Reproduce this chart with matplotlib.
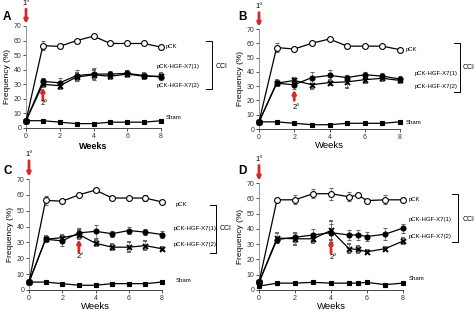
import matplotlib
matplotlib.use("Agg")
import matplotlib.pyplot as plt

plt.rcParams['font.family'] = ['Liberation Sans', 'DejaVu Sans']

weeks = [0, 1, 2, 3, 4, 5, 6, 7, 8]
weeks_d = [0, 1, 2, 3, 4, 5, 5.5, 6, 7, 8]

# Panel A
a_pck = [5, 56.5, 56, 60, 63, 58, 58, 58, 55.5]
a_pck_err = [0, 3, 1, 1, 1, 1, 1, 1, 1]
a_x71 = [5, 32, 31, 36, 37, 37, 37.5, 36, 35]
a_x71_err = [0, 2, 3, 4, 4, 2, 2, 2, 2]
a_x72 = [5, 30, 29, 35, 36.5, 35.5, 37, 35.5, 35.5]
a_x72_err = [0, 2, 2, 3, 3, 2, 2, 2, 2]
a_sham = [5, 5, 4, 3, 3, 4, 4, 4, 5]
a_sham_err = [0, 0.5, 0.5, 0.5, 0.5, 0.5, 0.5, 0.5, 0.5]

# Panel B
b_pck = [5, 57, 56, 60, 63, 58, 58, 58, 55.5]
b_pck_err = [0, 3, 1, 1, 1, 1, 1, 1, 1]
b_x71 = [5, 32, 31, 36, 37.5, 36, 38, 37, 35]
b_x71_err = [0, 2, 3, 4, 4, 2, 2, 2, 2]
b_x72 = [5, 32, 34, 31, 32.5, 33, 34.5, 35.5, 34]
b_x72_err = [0, 2, 2, 3, 2, 4, 2, 2, 2]
b_sham = [5, 5, 4, 3, 3, 4, 4, 4, 5]
b_sham_err = [0, 0.5, 0.5, 0.5, 0.5, 0.5, 0.5, 0.5, 0.5]

# Panel C
c_pck = [5, 56.5, 56, 60, 63, 58, 58, 58, 55.5]
c_pck_err = [0, 3, 1, 1, 1, 1, 1, 2, 1]
c_x71 = [5, 32, 31, 36, 37, 35.5, 37.5, 36.5, 35]
c_x71_err = [0, 2, 3, 3, 4, 2, 2, 2, 2]
c_x72 = [5, 32, 33, 35, 29.5, 27, 27, 28, 26]
c_x72_err = [0, 2, 2, 3, 2, 2, 3, 3, 1]
c_sham = [5, 5, 4, 3, 3, 4, 4, 4, 5]
c_sham_err = [0, 0.5, 0.5, 0.5, 0.5, 0.5, 0.5, 0.5, 0.5]

# Panel D
d_pck = [5, 59, 59, 63, 63, 61, 62, 58.5, 59, 59]
d_pck_err = [0, 1, 3, 3, 4, 3, 1, 1, 3, 1]
d_x71 = [5, 33, 34.5, 36, 37.5, 36, 36, 35, 36.5, 40.5]
d_x71_err = [0, 2, 3, 4, 6, 3, 3, 3, 4, 3]
d_x72 = [5, 34, 33.5, 33.5, 39, 27, 26.5, 25, 27, 32]
d_x72_err = [0, 3, 4, 3, 6, 3, 2, 1, 1, 2]
d_sham = [2.5, 4.5, 4.5, 5, 4.5, 4.5, 4.5, 5, 3.5, 4.5]
d_sham_err = [0, 0.5, 0.5, 0.5, 0.5, 0.5, 0.5, 0.5, 0.5, 0.5]

series_names = ["pCK", "pCK-HGF-X7(1)", "pCK-HGF-X7(2)", "Sham"]
group_label = "CCI"
panel_letters = ["A", "B", "C", "D"]

W, H = 474, 311
fig = plt.figure(figsize=(W / 100, H / 100), dpi=100)

def rect(l, r, t, b):
    return [l / W, 1 - b / H, (r - l) / W, (b - t) / H]

panels = [
    dict(rect=rect(26, 161, 26, 128), x=weeks,
         data=[(a_pck, a_pck_err), (a_x71, a_x71_err), (a_x72, a_x72_err), (a_sham, a_sham_err)],
         lab_pos=[(8.3, 55.6), (7.75, 42.5), (7.75, 29.5), (8.3, 7.5)],
         bracket=(11.0, 60, 26.6), cci=(11.25, 42.5),
         arrow2=(1, 19, 28), txt2=16.5, bold_weeks=True, letter=(3, 20)),
    dict(rect=rect(259, 400, 29, 129), x=weeks,
         data=[(b_pck, b_pck_err), (b_x71, b_x71_err), (b_x72, b_x72_err), (b_sham, b_sham_err)],
         lab_pos=[(8.3, 56), (8.85, 39.2), (8.85, 30.1), (8.35, 4.9)],
         bracket=(11.4, 60.2, 25.9), cci=(11.55, 43),
         arrow2=(2, 20, 27.5), txt2=15.4, bold_weeks=False, letter=(238, 20)),
    dict(rect=rect(29, 162, 179, 290), x=weeks,
         data=[(c_pck, c_pck_err), (c_x71, c_x71_err), (c_x72, c_x72_err), (c_sham, c_sham_err)],
         lab_pos=[(8.8, 54), (8.7, 38.5), (8.7, 28.5), (8.8, 6.3)],
         bracket=(11.25, 53.6, 23.3), cci=(11.45, 38.5),
         arrow2=(3, 24, 32), txt2=21, bold_weeks=False, letter=(3, 174)),
    dict(rect=rect(259, 403, 183, 290), x=weeks_d,
         data=[(d_pck, d_pck_err), (d_x71, d_x71_err), (d_x72, d_x72_err), (d_sham, d_sham_err)],
         lab_pos=[(8.3, 59.5), (8.3, 45.8), (8.3, 34.7), (8.3, 7.2)],
         bracket=(11.06, 62.8, 31.4), cci=(11.3, 45.8),
         arrow2=(4, 24, 33), txt2=21, bold_weeks=False, letter=(238, 174)),
]

styles = [
    dict(marker='o', mfc='white', mec='black', ms=4.2, mew=0.8),
    dict(marker='o', mfc='black', mec='black', ms=3.6, mew=0.8),
    dict(marker='x', mfc='black', mec='black', ms=3.6, mew=1.4),
    dict(marker='s', mfc='black', mec='black', ms=3.4, mew=0.8),
]

red = '#d42a2a'

def red_arrow(ax, x, y0, y1):
    ax.annotate("", xy=(x, y1), xytext=(x, y0),
                arrowprops=dict(arrowstyle='-|>', color=red, lw=2.0,
                                mutation_scale=5, shrinkA=0, shrinkB=0),
                annotation_clip=False)

for i, p in enumerate(panels):
    ax = fig.add_axes(p['rect'])
    x = p['x']
    for (vals, err), st in zip(p['data'], styles):
        ax.errorbar(x, vals, yerr=err, color='black', lw=0.9, ecolor='#666666',
                    elinewidth=0.5, capsize=1.3, capthick=0.5, clip_on=False,
                    zorder=3, **st)
    ax.set_xlim(0, 8)
    ax.set_ylim(0, 70)
    ax.set_xticks([0, 2, 4, 6, 8])
    ax.set_yticks(range(0, 71, 10))
    for s in ['top', 'right']:
        ax.spines[s].set_visible(False)
    ax.spines['left'].set_color('#8899aa')
    ax.spines['bottom'].set_color('#444444')
    ax.spines['left'].set_linewidth(0.7)
    ax.spines['bottom'].set_linewidth(0.7)
    ax.tick_params(labelsize=5, length=2, width=0.6, pad=1.5, colors='#333333')
    ax.set_ylabel("Frequency (%)", fontsize=6, labelpad=1.5)
    if p['bold_weeks']:
        ax.set_xlabel("Weeks", fontsize=6.5, fontweight='bold', labelpad=1.5)
    else:
        ax.set_xlabel("Weeks", fontsize=6.8, labelpad=0)
    for name, (lx, ly) in zip(series_names, p['lab_pos']):
        ax.text(lx, ly, name, fontsize=4.3, va='center', ha='left', clip_on=False)
    bx, bt, bb = p['bracket']
    ax.plot([bx - 0.35, bx, bx, bx - 0.35], [bt, bt, bb, bb], color='black',
            lw=0.7, clip_on=False)
    ax.text(p['cci'][0], p['cci'][1], group_label, fontsize=5, va='center',
            ha='left', clip_on=False)
    red_arrow(ax, 0, 81.5, 71.5)
    ax.text(0, 85.5, "1°", fontsize=5.5, ha='center', va='center', clip_on=False)
    ax2x, a0, a1 = p['arrow2']
    red_arrow(ax, ax2x, a0, a1)
    ax.text(ax2x + 0.1, p['txt2'], "2°", fontsize=5.5, ha='center', va='center',
            clip_on=False)
    lx, ly = p['letter']
    fig.text(lx / W, 1 - ly / H, panel_letters[i], fontsize=8.5, fontweight='bold',
             ha='left', va='baseline')

fig.savefig("out.png", dpi=100)
